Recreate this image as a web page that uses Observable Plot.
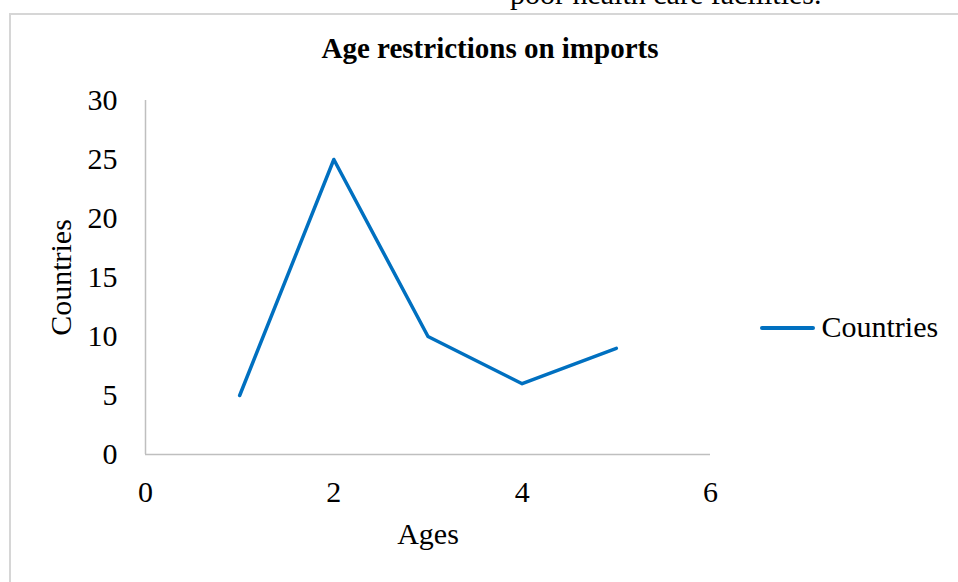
<!DOCTYPE html>
<html>
<head>
<meta charset="utf-8">
<script src="https://cdn.jsdelivr.net/npm/d3@7"></script>
<script src="https://cdn.jsdelivr.net/npm/@observablehq/plot@0.6"></script>
<style>
  html, body { margin: 0; padding: 0; background: #fff; overflow: hidden; }
  body { width: 958px; height: 582px; position: relative; font-family: "Liberation Serif", "Times New Roman", serif; }
  #frame { position: absolute; left: 9px; top: 13px; width: 980px; height: 600px; border: 2px solid #d6d6d6; box-sizing: border-box; }
  #above { position: absolute; left: 510px; top: -21px; font-size: 30px; line-height: 30px; white-space: nowrap; color: #000; }
  #chart { position: absolute; left: 0; top: 0; }
  #legline { position: absolute; left: 760px; top: 326px; width: 55px; height: 4px; background: #0070C0; border-radius: 2px; }
</style>
</head>
<body>
<div id="above">poor health care facilities.</div>
<div id="frame"></div>
<div id="chart"></div>
<div id="legline"></div>
<script>
const ages = [1, 2, 3, 4, 5];
const countries = [5, 25, 10, 6, 9];
const xTicks = [0, 2, 4, 6];
const yTicks = [0, 5, 10, 15, 20, 25, 30];
const title = "Age restrictions on imports";
const xLabel = "Ages";
const yLabel = "Countries";
const seriesName = "Countries";

const data = ages.map((a, i) => ({age: a, count: countries[i]}));

const chart = Plot.plot({
  width: 958,
  height: 582,
  marginLeft: 145,
  marginRight: 248,
  marginTop: 100,
  marginBottom: 128,
  style: {fontFamily: "'Liberation Serif', 'Times New Roman', serif", fontSize: "30px", background: "transparent", color: "#000"},
  x: {domain: [0, 6], ticks: xTicks, tickFormat: "d", tickSize: 0, tickPadding: 26, label: null},
  y: {domain: [0, 30], ticks: yTicks, tickFormat: "d", tickSize: 0, tickPadding: 28, label: null},
  marks: [
    Plot.ruleY([0], {stroke: "#bfbfbf", strokeWidth: 1.5}),
    Plot.ruleX([0], {stroke: "#bfbfbf", strokeWidth: 1.5}),
    Plot.line(data, {x: "age", y: "count", stroke: "#0070C0", strokeWidth: 3.5, strokeLinejoin: "round"}),
    Plot.text([title], {frameAnchor: "top", dx: 62, dy: -63, fontSize: 29, fontWeight: "bold", fill: "#000"}),
    Plot.text([xLabel], {frameAnchor: "bottom", dy: 89, fontSize: 30, fill: "#000"}),
    Plot.text([yLabel], {frameAnchor: "left", textAnchor: "middle", dx: -84, rotate: -90, fontSize: 30, fill: "#000"}),
    Plot.text([seriesName], {frameAnchor: "right", dx: 111, dy: 50, textAnchor: "start", fontSize: 30, fill: "#000"})
  ]
});
document.getElementById("chart").appendChild(chart);
</script>
</body>
</html>
